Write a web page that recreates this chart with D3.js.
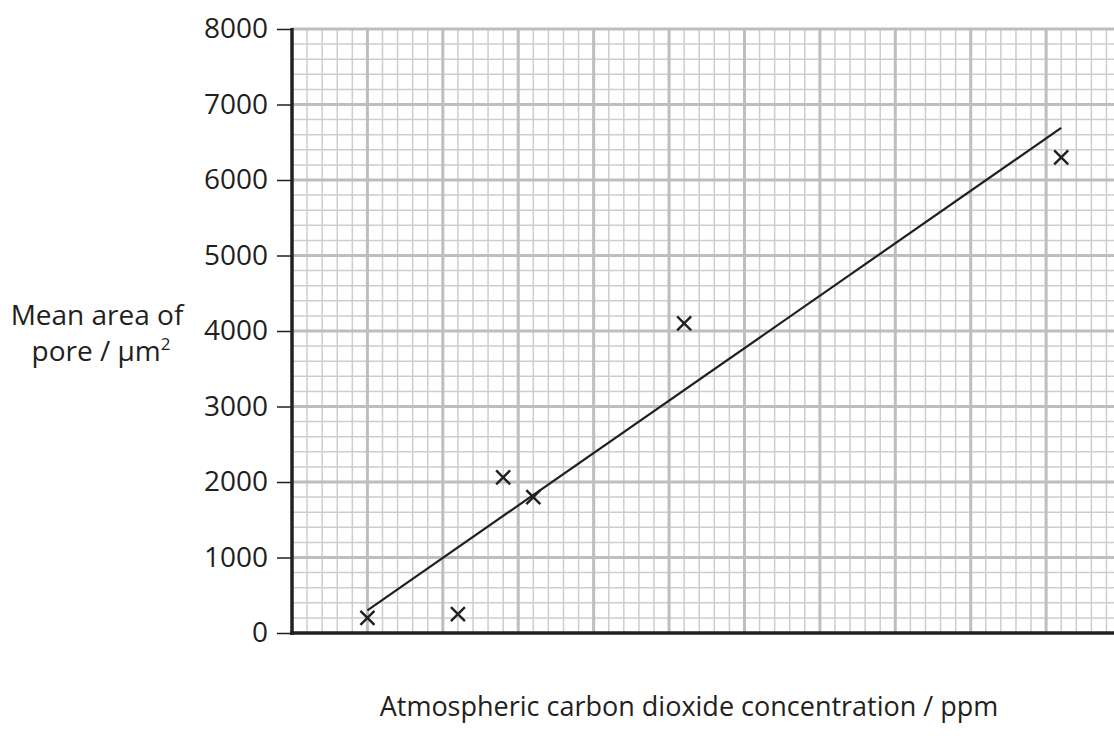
<!DOCTYPE html>
<html>
<head>
<meta charset="utf-8">
<script src="https://cdn.jsdelivr.net/npm/d3@7"></script>
<style>
  body { margin: 0; background: #fff; }
  svg text { font-family: "Open Sans", sans-serif; fill: #231f20; }
</style>
</head>
<body>
<script>
// data (x in major grid squares, no labels on x axis)
var co2Position = [1.0, 2.2, 2.8, 3.2, 5.2, 10.2];
var poreArea = [200, 250, 2060, 1800, 4100, 6300];
var fitX = [1.0, 10.2];
var fitY = [300, 6690];
var yTicks = [0, 1000, 2000, 3000, 4000, 5000, 6000, 7000, 8000];

var width = 1114, height = 738;
var svg = d3.select("body").append("svg").attr("width", width).attr("height", height);

var x = d3.scaleLinear().domain([0, 10.9]).range([292, 1114]);
var y = d3.scaleLinear().domain([0, 8000]).range([633, 29]);

var grid = svg.append("g").attr("class", "grid");

// minor lines every 200 / 0.2
var minorY = d3.range(0, 8001, 200).filter(function (d) { return d % 1000 !== 0; });
var minorX = d3.range(0, 10.9, 0.2).filter(function (d) { return Math.abs(d - Math.round(d)) > 0.01; });

grid.selectAll(".minorH").data(minorY).enter().append("line")
    .attr("x1", x(0)).attr("x2", width)
    .attr("y1", function (d) { return y(d); }).attr("y2", function (d) { return y(d); })
    .attr("stroke", "#cdcdcd").attr("stroke-width", 1.5);
grid.selectAll(".minorV").data(minorX).enter().append("line")
    .attr("x1", function (d) { return x(d); }).attr("x2", function (d) { return x(d); })
    .attr("y1", y(8000)).attr("y2", y(0))
    .attr("stroke", "#cdcdcd").attr("stroke-width", 1.5);

// major lines
grid.selectAll(".majorH").data(yTicks.slice(1)).enter().append("line")
    .attr("x1", x(0)).attr("x2", width)
    .attr("y1", function (d) { return y(d); }).attr("y2", function (d) { return y(d); })
    .attr("stroke", "#bebebe").attr("stroke-width", 3);
grid.selectAll(".majorV").data(d3.range(1, 11)).enter().append("line")
    .attr("x1", function (d) { return x(d); }).attr("x2", function (d) { return x(d); })
    .attr("y1", y(8000)).attr("y2", y(0))
    .attr("stroke", "#bebebe").attr("stroke-width", 3);

// y axis
var yAxis = svg.append("g")
    .attr("transform", "translate(" + x(0) + ",0)")
    .call(d3.axisLeft(y).tickValues(yTicks).tickSize(15).tickPadding(9).tickFormat(d3.format("d")));
yAxis.select(".domain").remove();
yAxis.selectAll(".tick line").attr("stroke", "#231f20").attr("stroke-width", 1.5);
yAxis.selectAll(".tick text").attr("font-size", 28).attr("font-family", "Open Sans").attr("fill", "#231f20");

svg.append("line")
    .attr("x1", x(0)).attr("x2", x(0)).attr("y1", y(8000) - 1).attr("y2", y(0) + 2)
    .attr("stroke", "#231f20").attr("stroke-width", 3.5);
svg.append("line")
    .attr("x1", x(0) - 2).attr("x2", width).attr("y1", y(0)).attr("y2", y(0))
    .attr("stroke", "#231f20").attr("stroke-width", 3.5);

// line of best fit
svg.append("path")
    .datum(d3.zip(fitX, fitY))
    .attr("d", d3.line().x(function (d) { return x(d[0]); }).y(function (d) { return y(d[1]); }))
    .attr("fill", "none").attr("stroke", "#231f20").attr("stroke-width", 2.2);

// crosses
var pts = d3.zip(co2Position, poreArea);
var s = 7;
svg.append("g").selectAll("path").data(pts).enter().append("path")
    .attr("d", function (d) {
        var cx = x(d[0]), cy = y(d[1]);
        return "M" + (cx - s) + "," + (cy - s) + "L" + (cx + s) + "," + (cy + s) +
               "M" + (cx - s) + "," + (cy + s) + "L" + (cx + s) + "," + (cy - s);
    })
    .attr("stroke", "#231f20").attr("stroke-width", 2.4).attr("fill", "none");

// axis titles
svg.append("text").attr("text-anchor", "middle").attr("font-size", 28)
    .attr("x", 97).attr("y", 325).text("Mean area of");
var t2 = svg.append("text").attr("text-anchor", "middle").attr("font-size", 28)
    .attr("x", 101).attr("y", 361).text("pore / μm");
t2.append("tspan").attr("font-size", 17).attr("dy", -11).text("2");

svg.append("text")
    .attr("x", 689).attr("y", 716)
    .attr("text-anchor", "middle").attr("font-size", 27)
    .text("Atmospheric carbon dioxide concentration / ppm");
</script>
</body>
</html>
